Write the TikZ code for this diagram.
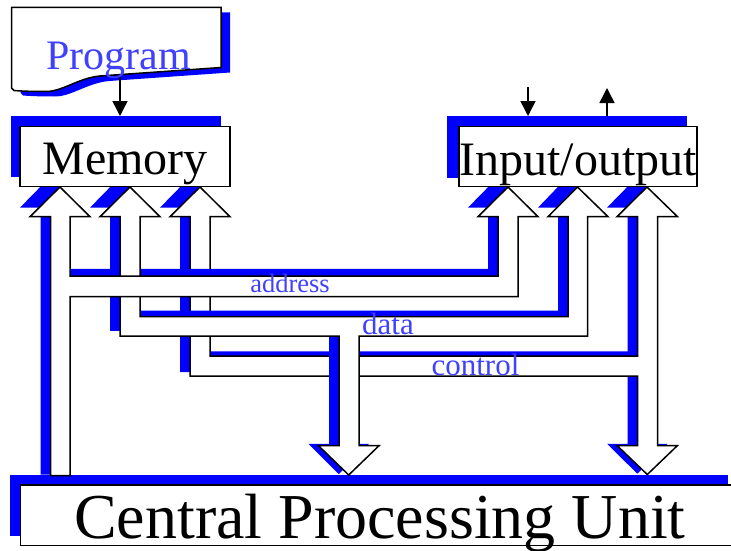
\documentclass[tikz,border=0pt]{standalone}
\usepackage{fontspec}
\setmainfont{Liberation Serif}
\usetikzlibrary{arrows.meta}
\definecolor{labelblue}{rgb}{.25,.25,1}
\tikzset{
  boxnode/.style={draw=black,fill=white,line width=1.5pt,inner sep=0pt,outer sep=0pt},
  shadownode/.style={fill=blue,inner sep=0pt,outer sep=0pt},
  busline/.style={draw=black,fill=white,line width=1.5pt},
  busshadow/.style={fill=blue,xshift=-10pt,yshift=16pt,y=-1.032pt},
  sigline/.style={line width=1.5pt,-{Triangle[width=15pt,length=15pt]}},
  buslabel/.style={text=labelblue,anchor=base,inner sep=0pt}
}
\newcommand{\AddressBus}{(60,187) -- (90,216.7) -- (70,216.7) -- (70,276) -- (498,276) -- (498,216.7) -- (478,216.7) -- (508,187) -- (538,216.7) -- (518,216.7) -- (518,296.7) -- (70,296.7) -- (70,475.5) -- (50.5,475.5) -- (50.5,216.7) -- (30,216.7) -- cycle}
\newcommand{\DataBus}{(130,187) -- (160,216.7) -- (140,216.7) -- (140,316.5) -- (568,316.5) -- (568,216.7) -- (548,216.7) -- (577.5,187) -- (608,216.7) -- (587.5,216.7) -- (587.5,336) -- (359,336) -- (359,445.7) -- (379,445.7) -- (348.7,475) -- (318.5,445.7) -- (339,445.7) -- (339,336) -- (120,336) -- (120,216.7) -- (100,216.7) -- cycle}
\newcommand{\ControlBus}{(200,187) -- (230,216.7) -- (210,216.7) -- (210,356) -- (637.5,356) -- (637.5,216.7) -- (617,216.7) -- (647,187) -- (677.5,216.7) -- (657.5,216.7) -- (657.5,445.5) -- (677.5,445.5) -- (647.3,474.5) -- (617,445.5) -- (637.5,445.5) -- (637.5,376) -- (190,376) -- (190,216.7) -- (170,216.7) -- cycle}
\newcommand{\ProgramSheet}{(11.5,7.5) -- (221,7.5) -- (221,67.5) -- (100,76) .. controls (78,78) and (62,92) .. (45,91.5) .. controls (30,91.5) and (20,91) .. (14,90.5) -- (11.5,88) -- cycle}
\begin{document}
\begin{tikzpicture}[x=1pt,y=-1pt]
\useasboundingbox (0,0) rectangle (731,551);
\clip (0,0) rectangle (731,551);
\fill[blue,xshift=9pt,yshift=-5pt] \ProgramSheet;
\draw (369,505.5) node[shadownode,minimum width=718pt,minimum height=61pt] (CPUshade) {};
\draw (115.75,146.5) node[shadownode,minimum width=210.5pt,minimum height=61pt] (Memshade) {};
\draw (567,147) node[shadownode,minimum width=240pt,minimum height=62pt] (IOshade) {};

\fill[busshadow] \ControlBus;
\draw[busline] \ControlBus;
\fill[busshadow] \AddressBus;
\fill[busshadow] \DataBus;
\draw[busline] \DataBus;
\draw[busline] \AddressBus;

\draw[line width=1.5pt,fill=white] \ProgramSheet;
\coordinate (ProgOut) at (120,76);
\coordinate (MemIn) at (120,116);
\coordinate (InSrc) at (528,87);
\coordinate (IOIn) at (528,116);
\coordinate (IOOut) at (607,116);
\coordinate (OutDst) at (607,88);
\draw[sigline] (ProgOut) -- (MemIn);
\draw[sigline] (InSrc) -- (IOIn);
\draw[sigline] (IOOut) -- (OutDst);

\draw (125,156.7) node[boxnode,minimum width=210pt,text height=47.5pt,text depth=12.5pt,font=\fontsize{48}{48}\selectfont] (Memory) {Memory};
\draw (578,156.7) node[boxnode,minimum width=238pt,text height=49pt,text depth=11pt,font=\fontsize{48}{48}\selectfont] (InOut) {Input/output};
\draw (380,515.25) node[boxnode,minimum width=719.5pt,text height=53pt,text depth=7.5pt,font=\fontsize{64}{64}\selectfont] (CPU) {Central Processing Unit};

\draw (118.5,69.5) node[buslabel,font=\fontsize{42}{42}\selectfont] (ProgLabel) {Program};
\draw (290,292.5) node[buslabel,font=\fontsize{26.5}{27}\selectfont] (AddrLabel) {address};
\draw (388,334.5) node[buslabel,font=\fontsize{31}{31}\selectfont] (DataLabel) {data};
\draw (475.5,375.5) node[buslabel,font=\fontsize{31}{31}\selectfont] (CtrlLabel) {control};
\end{tikzpicture}
\end{document}
